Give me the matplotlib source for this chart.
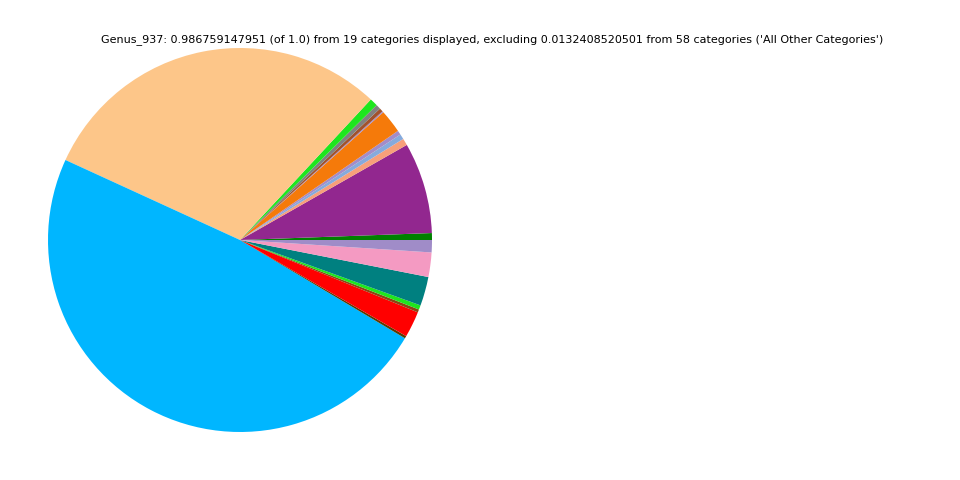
import matplotlib
matplotlib.use("Agg")
import matplotlib.pyplot as plt

categories = ["c01", "c02", "c03", "c04", "c05", "c06", "c07", "c08", "c09", "c10",
              "c11", "c12", "c13", "c14", "c15", "c16", "c17", "c18", "c19"]
values = [0.0057, 0.0757, 0.0057, 0.0043, 0.0036, 0.0194, 0.0010, 0.0030, 0.0040, 0.0066,
          0.2970, 0.4766, 0.0020, 0.0217, 0.0025, 0.0036, 0.0241, 0.0203, 0.0102]
colors = ["#008000", "#92278F", "#F7A07A", "#86AADC", "#A38CC8", "#F57A0A", "#A38CC8",
          "#A0522D", "#808080", "#1EE61E", "#FDC689", "#00B6FF", "#5A3A00", "#FF0000",
          "#8B4513", "#1EE61E", "#008080", "#F49AC2", "#A08CC8"]
title = ("Genus_937: 0.986759147951 (of 1.0) from 19 categories displayed, excluding "
         "0.0132408520501 from 58 categories ('All Other Categories')")

fig = plt.figure(figsize=(9.6, 4.8), dpi=100)
ax = fig.add_axes([48 / 960, 48 / 480, 384 / 960, 384 / 480])
ax.pie(values, colors=colors, startangle=0, counterclock=True, radius=1.0)
ax.set_xlim(-1, 1)
ax.set_ylim(-1, 1)
ax.set_aspect("equal")
ax.axis("off")

fig.text(492.5 / 960, 1 - 39.5 / 480, title, ha="center", va="center",
         fontsize=8, family="DejaVu Sans")

fig.savefig("out.png", dpi=100)
